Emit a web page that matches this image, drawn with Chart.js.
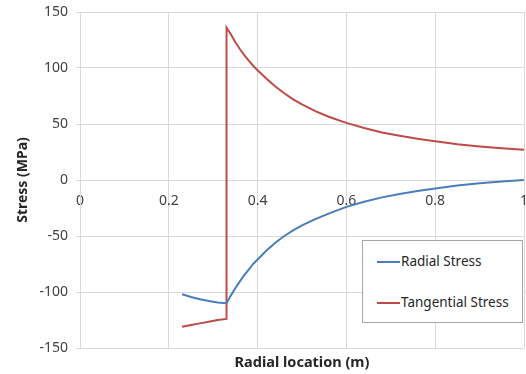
<!DOCTYPE html>
<html>
<head>
<meta charset="utf-8">
<script src="https://cdn.jsdelivr.net/npm/chart.js@4/dist/chart.umd.min.js"></script>
<style>
  html, body { margin: 0; padding: 0; background: #fff; }
  #wrap { position: relative; width: 526px; height: 374px; }
  #c { position: absolute; left: 0; top: 0; }
  #xtitle { position: absolute; left: 80px; width: 444px; top: 351px; text-align: center;
            font: bold 14.5px "Noto Sans", sans-serif; color: #262626; }
  #legend { position: absolute; left: 362px; top: 240px; width: 159px; height: 81px;
            border: 1px solid #a6a6a6; background: #fff; font: 13.5px "Noto Sans", sans-serif; color: #262626; }
  .item { position: absolute; left: 14px; height: 16px; line-height: 16px; white-space: nowrap; }
  .item span.sw { display: inline-block; width: 23px; height: 2px; vertical-align: middle; margin-right: 1px; }
</style>
</head>
<body>
<div id="wrap">
  <canvas id="c" width="526" height="374"></canvas>
  <div id="xtitle">Radial location (m)</div>
  <div id="legend"></div>
</div>
<script>
// Data
const seriesNames = ["Radial Stress", "Tangential Stress"];
const xRadial = [0.23, 0.25, 0.27, 0.29, 0.31, 0.33, 0.34, 0.35, 0.36, 0.37, 0.38, 0.39, 0.40, 0.42, 0.44, 0.46, 0.48, 0.50, 0.53, 0.56, 0.60, 0.64, 0.68, 0.72, 0.76, 0.80, 0.85, 0.90, 0.95, 1.0];
const radialStress = [-102, -104.5, -106.5, -108, -109.3, -110, -103, -96.5, -90.5, -85, -80, -75, -71, -63, -56, -50, -45, -40.5, -35, -30, -24, -19.5, -15.5, -12.5, -9.8, -7.5, -5, -3, -1.4, 0];
const xTangential = [0.23, 0.25, 0.27, 0.29, 0.31, 0.33, 0.33, 0.34, 0.35, 0.36, 0.37, 0.38, 0.39, 0.40, 0.42, 0.44, 0.46, 0.48, 0.50, 0.53, 0.56, 0.60, 0.64, 0.68, 0.72, 0.76, 0.80, 0.85, 0.90, 0.95, 1.0];
const tangentialStress = [-131, -129.5, -128, -126.5, -125, -124, 136, 130, 123, 117, 111.5, 106.5, 102, 98, 90.5, 83.5, 77.5, 72, 67.5, 61.5, 56.5, 51, 46.5, 42.5, 39.5, 36.8, 34.5, 32, 30, 28.3, 27];
const xTicks = [0, 0.2, 0.4, 0.6, 0.8, 1];
const yTicks = [-150, -100, -50, 0, 50, 100, 150];
const colors = ["#4a7ebb", "#be4b48"];

const toPts = (xs, ys) => xs.map((x, i) => ({ x: x, y: ys[i] }));

const tickFont = { family: "Noto Sans", size: 14 };
const gridColor = "#d9d9d9";

new Chart(document.getElementById("c"), {
  type: "scatter",
  data: {
    datasets: [
      { label: seriesNames[0], data: toPts(xRadial, radialStress), showLine: true,
        borderColor: colors[0], backgroundColor: colors[0], borderWidth: 2, pointRadius: 0, tension: 0 },
      { label: seriesNames[1], data: toPts(xTangential, tangentialStress), showLine: true,
        borderColor: colors[1], backgroundColor: colors[1], borderWidth: 2, pointRadius: 0, tension: 0 }
    ]
  },
  options: {
    responsive: false,
    animation: false,
    devicePixelRatio: 1,
    layout: { padding: { left: 0, right: 2, top: 12, bottom: 26 } },
    plugins: { legend: { display: false }, tooltip: { enabled: false } },
    scales: {
      x: {
        type: "linear",
        position: { y: 0 },
        min: 0, max: 1,
        afterBuildTicks: (s) => { s.ticks = xTicks.map(v => ({ value: v })); },
        afterFit: (s) => { s.paddingLeft = 0; s.paddingRight = 0; },
        ticks: { font: tickFont, color: "#404040", padding: 13, autoSkip: false, maxRotation: 0,
                 callback: (v) => String(+v.toFixed(1)) },
        grid: { color: gridColor, lineWidth: 1, drawTicks: false },
        border: { color: gridColor, width: 1 }
      },
      y: {
        type: "linear",
        position: "left",
        min: -150, max: 150,
        afterBuildTicks: (s) => { s.ticks = yTicks.map(v => ({ value: v })); },
        afterFit: (s) => { s.width = 80; s.paddingTop = 0; s.paddingBottom = 0; },
        ticks: { font: tickFont, color: "#404040", padding: 8 },
        grid: { color: gridColor, lineWidth: 1, tickLength: 4 },
        border: { color: gridColor, width: 1 },
        title: { display: true, text: "Stress (MPa)", font: { family: "Noto Sans", size: 14, weight: "bold" },
                 color: "#262626", padding: { top: 15, bottom: 0 } }
      }
    }
  }
});

// legend (HTML, real text)
const lg = document.getElementById("legend");
seriesNames.forEach((name, i) => {
  const d = document.createElement("div");
  d.className = "item";
  d.style.top = (12 + i * 41) + "px";
  d.innerHTML = '<span class="sw" style="background:' + colors[i] + '"></span>' + name;
  lg.appendChild(d);
});
</script>
</body>
</html>
